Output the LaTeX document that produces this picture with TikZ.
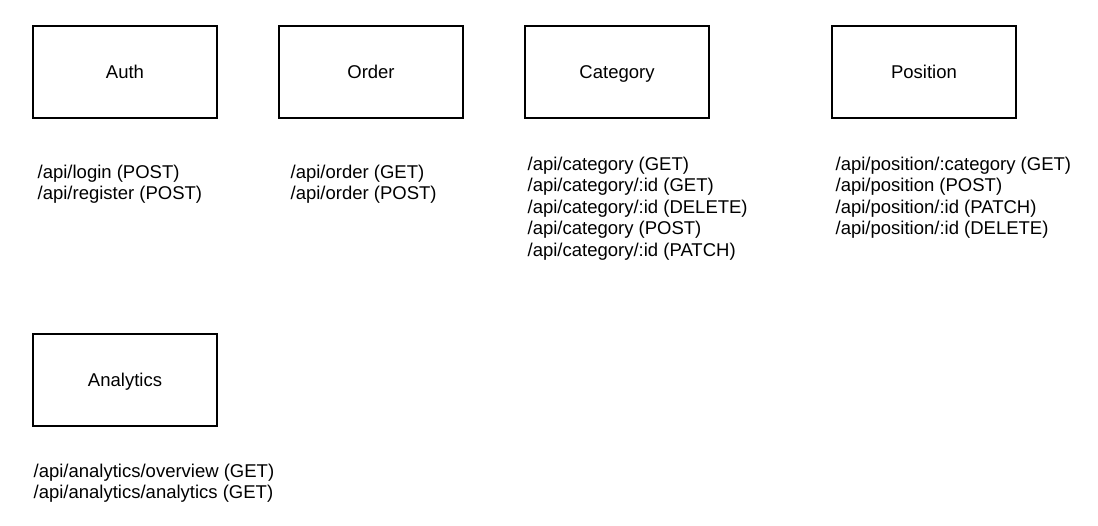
\documentclass[tikz,border=0pt]{standalone}
\usepackage{fontspec}
\setmainfont{Liberation Sans}
\begin{document}
\begin{tikzpicture}[x=1pt, y=-1pt, line width=1.3pt,
    main/.style = {draw, rectangle, minimum width=184pt, minimum height=92pt, inner sep=0pt, text height=13.3pt, text depth=0pt, font=\fontsize{18.5}{21.5}\selectfont},
    api/.style = {anchor=north west, align=left, inner sep=0pt, font=\fontsize{18.5}{21.5}\selectfont}]
    \useasboundingbox (0,0) rectangle (1098,526);
    \node[main] (auth) at (125,72) {Auth};
    \node[main] (order) at (371,72) {Order};
    \node[main] (category) at (617,72) {Category};
    \node[main] (position) at (924,72) {Position};
    \node[main] (analytics) at (125,380) {Analytics};
    \node[api] (authapi) at (37,164) {/api/login (POST)\\/api/register (POST)};
    \node[api] (orderapi) at (290,164) {/api/order (GET)\\/api/order (POST)};
    \node[api] (categoryapi) at (527,156) {/api/category (GET)\\/api/category/:id (GET)\\/api/category/:id (DELETE)\\/api/category (POST)\\/api/category/:id (PATCH)};
    \node[api] (positionapi) at (835,156) {/api/position/:category (GET)\\/api/position (POST)\\/api/position/:id (PATCH)\\/api/position/:id (DELETE)};
    \node[api] (analyticsapi) at (33,463) {/api/analytics/overview (GET)\\/api/analytics/analytics (GET)};
\end{tikzpicture}
\end{document}
